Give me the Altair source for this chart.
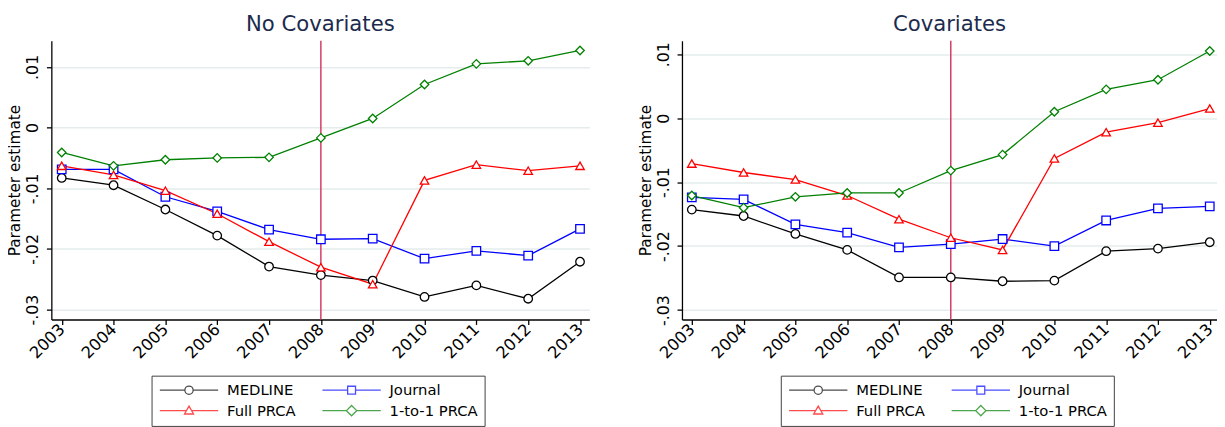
import altair as alt
import pandas as pd

# ---------------- data ----------------
years = [2003, 2004, 2005, 2006, 2007, 2008, 2009, 2010, 2011, 2012, 2013]
series_names = ["MEDLINE", "Journal", "Full PRCA", "1-to-1 PRCA"]
series_colors = ["#000000", "#0000ff", "#ff0000", "#008000"]
# legend reading order (two columns, filled column by column)
legend_order = ["MEDLINE", "Full PRCA", "Journal", "1-to-1 PRCA"]
legend_colors = ["#000000", "#ff0000", "#0000ff", "#008000"]

# Panel 1: No Covariates
medline_nc = [-0.0083, -0.0095, -0.0135, -0.0178, -0.0229, -0.0243, -0.0252, -0.0279, -0.0260, -0.0282, -0.0221]
journal_nc = [-0.0069, -0.0069, -0.0114, -0.0138, -0.0168, -0.0184, -0.0183, -0.0216, -0.0203, -0.0211, -0.0167]
fullprca_nc = [-0.0063, -0.0078, -0.0104, -0.0142, -0.0188, -0.0230, -0.0258, -0.0087, -0.0061, -0.0071, -0.0063]
onetoone_nc = [-0.0041, -0.0063, -0.0053, -0.0050, -0.0049, -0.0017, 0.0015, 0.0071, 0.0105, 0.0110, 0.0127]

# Panel 2: Covariates
medline_c = [-0.0143, -0.0153, -0.0181, -0.0206, -0.0249, -0.0249, -0.0255, -0.0254, -0.0208, -0.0204, -0.0194]
journal_c = [-0.0124, -0.0127, -0.0166, -0.0179, -0.0202, -0.0197, -0.0189, -0.0200, -0.0160, -0.0141, -0.0138]
fullprca_c = [-0.0071, -0.0085, -0.0096, -0.0121, -0.0158, -0.0187, -0.0206, -0.0063, -0.0022, -0.0007, 0.0015]
onetoone_c = [-0.0121, -0.0140, -0.0123, -0.0117, -0.0117, -0.0082, -0.0057, 0.0010, 0.0045, 0.0060, 0.0105]

y_ticks = [-0.03, -0.02, -0.01, 0.0, 0.01]
policy_year = [2008]

titles = ["No Covariates", "Covariates"]
y_title = "Parameter estimate"


def long_df(cols):
    rows = []
    for name, vals in zip(series_names, cols):
        for yr, v in zip(years, vals):
            rows.append({"year": yr, "value": v, "series": name})
    return pd.DataFrame(rows)


df_nc = long_df([medline_nc, journal_nc, fullprca_nc, onetoone_nc])
df_c = long_df([medline_c, journal_c, fullprca_c, onetoone_c])
rule_df = pd.DataFrame({"year": policy_year})

plot_shapes = ["circle", "square", "triangle-up", "diamond"]
legend_paths = {
    "MEDLINE": "M-7.4,0H-1.05M1.05,0H7.4M-1.05,0A1.05,1.05,0,1,1,1.05,0A1.05,1.05,0,1,1,-1.05,0Z",
    "Journal": "M-7.4,0H-1M1,0H7.4M-1,-1H1V1H-1Z",
    "Full PRCA": "M-7.4,0H-0.66M0.66,0H7.4M0,-1.15L1.15,0.85H-1.15Z",
    "1-to-1 PRCA": "M-7.4,0H-1.3M1.3,0H7.4M0,-1.3L1.3,0L0,1.3L-1.3,0Z",
}
legend_shapes = [legend_paths[n] for n in legend_order]

FONT = "DejaVu Sans"
LABEL_EXPR = ("datum.value == 0 ? '0' : (datum.value < 0 ? '-' : '') + "
              "replace(format(abs(datum.value), '.2f'), '0.', '.')")


def panel(df, title, xdom, ydom, width, legend_x):
    x = alt.X("year:Q", title=None,
              scale=alt.Scale(domain=xdom, nice=False, zero=False),
              axis=alt.Axis(values=years, format="d", labelAngle=315,
                            labelAlign="right", labelBaseline="middle",
                            labelPadding=2, labelFontSize=16.5, grid=False))
    y = alt.Y("value:Q", title=y_title,
              scale=alt.Scale(domain=ydom, nice=False, zero=False),
              axis=alt.Axis(values=y_ticks, labelExpr=LABEL_EXPR,
                            labelAngle=270, labelAlign="center",
                            labelBaseline="bottom", labelPadding=6,
                            labelFontSize=16, titlePadding=2, grid=True,
                            gridColor="#e4eced", gridWidth=1.5))
    cscale = alt.Scale(domain=series_names, range=series_colors)

    rule = alt.Chart(rule_df).mark_rule(color="#d23c64", strokeWidth=1.5).encode(
        x=alt.X("year:Q", scale=alt.Scale(domain=xdom, nice=False, zero=False))
    )
    lines = alt.Chart(df).mark_line(strokeWidth=1.3).encode(
        x=x, y=y,
        color=alt.Color("series:N", scale=cscale, legend=None),
    )
    points = alt.Chart(df).mark_point(filled=True, fill="white", size=75,
                                      strokeWidth=1.3, opacity=1).encode(
        x=x, y=y,
        stroke=alt.Stroke("series:N", scale=cscale, legend=None),
        shape=alt.Shape("series:N",
                        scale=alt.Scale(domain=series_names, range=plot_shapes),
                        legend=None),
    )
    leg = alt.Legend(title=None, orient="none", legendX=legend_x, legendY=340,
                     columns=2, symbolSize=64, symbolStrokeWidth=1.3,
                     symbolOffset=23.5, labelOffset=31, labelFont=FONT,
                     labelFontSize=15, labelColor="black", strokeColor="#404040",
                     fillColor="white", padding=7, columnPadding=23,
                     rowPadding=4)
    legend_layer = alt.Chart(df).mark_point(filled=False, size=64,
                                            strokeWidth=1.3).encode(
        x=x, y=y,
        color=alt.Color("series:N",
                        scale=alt.Scale(domain=legend_order, range=legend_colors),
                        legend=leg),
        shape=alt.Shape("series:N",
                        scale=alt.Scale(domain=legend_order, range=legend_shapes),
                        legend=leg),
    ).transform_filter("false")

    return alt.layer(rule, lines, points, legend_layer).resolve_scale(
        color="independent", shape="independent", stroke="independent"
    ).properties(
        width=width, height=283,
        title=alt.TitleParams(title, fontSize=21.5, font=FONT,
                              fontWeight="normal", color="#1c2b4d",
                              anchor="middle", offset=5),
    )


left = panel(df_nc, titles[0], [2002.80, 2013.18], [-0.03162, 0.01432], 546, 101.7)
right = panel(df_c, titles[1], [2002.81, 2013.14], [-0.03148, 0.01211], 543, 100.3)

chart = alt.hconcat(left, right, spacing=50).resolve_scale(
    color="independent", shape="independent", stroke="independent"
).properties(
    padding={"left": 0, "top": 2, "right": 0, "bottom": 0},
    background="white",
).configure_view(stroke=None).configure_axis(
    domainColor="black", domainWidth=1.3, tickColor="black", tickWidth=1.3,
    tickSize=5, labelFont=FONT, labelFontSize=15, labelColor="black",
    titleFont=FONT, titleFontSize=15.5, titleFontWeight="normal",
    titleColor="black",
)

chart.save("out.html", embed_options={"renderer": "svg", "actions": False})
